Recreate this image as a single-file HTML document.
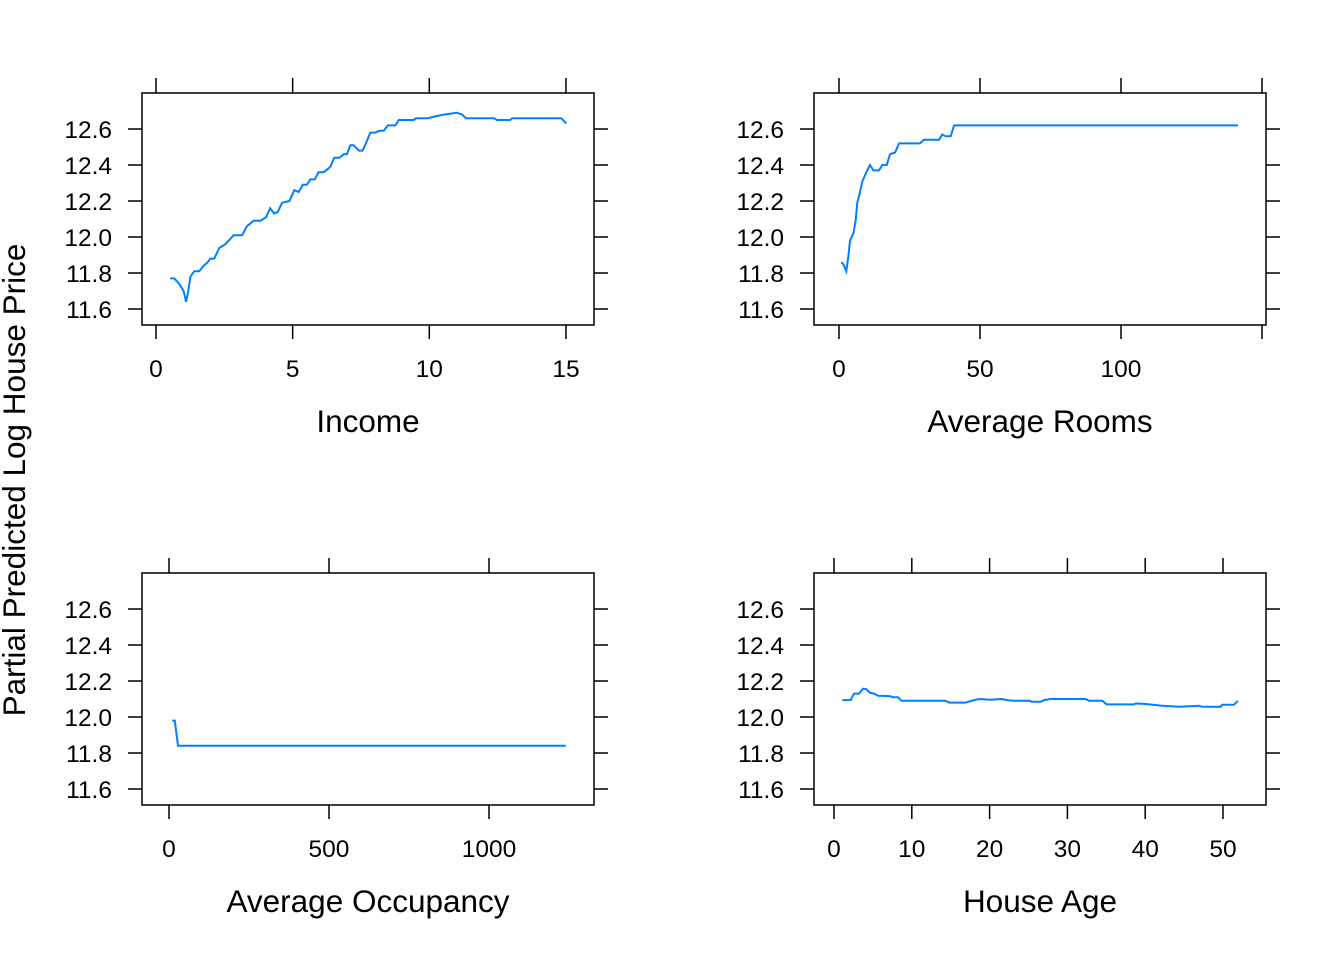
<!DOCTYPE html>
<html><head><meta charset="utf-8"><style>
body{margin:0;background:#fff}
svg{display:block}
text{font-family:"Liberation Sans",Arial,sans-serif;fill:#000}
</style></head><body>
<svg id="c" width="1344" height="960" viewBox="0 0 1344 960">
<text x="0" y="0" transform="translate(25,480) rotate(-90)" text-anchor="middle" font-size="31.5">Partial Predicted Log House Price</text>
</svg>
<script>
const yTicks=[11.6,11.8,12.0,12.2,12.4,12.6];
const incomeX=[0.52,0.67,0.85,1.01,1.10,1.17,1.26,1.40,1.58,1.74,1.89,1.99,2.13,2.32,2.54,2.84,3.15,3.33,3.57,3.82,4.03,4.18,4.33,4.46,4.61,4.88,5.06,5.22,5.37,5.52,5.65,5.81,5.95,6.14,6.38,6.52,6.71,6.87,6.99,7.11,7.23,7.42,7.56,7.68,7.84,8.02,8.17,8.33,8.48,8.76,8.88,9.43,9.51,9.94,10.22,10.53,11.01,11.20,11.34,11.56,11.81,12.36,12.48,12.96,13.03,14.83,15.01];
const incomeY=[11.77,11.77,11.74,11.70,11.64,11.69,11.78,11.81,11.81,11.84,11.86,11.88,11.88,11.94,11.96,12.01,12.01,12.06,12.09,12.09,12.11,12.16,12.13,12.14,12.19,12.20,12.26,12.25,12.29,12.29,12.32,12.32,12.36,12.36,12.39,12.44,12.44,12.46,12.46,12.51,12.51,12.48,12.48,12.52,12.58,12.58,12.59,12.59,12.62,12.62,12.65,12.65,12.66,12.66,12.67,12.68,12.69,12.68,12.66,12.66,12.66,12.66,12.65,12.65,12.66,12.66,12.63];
const roomsX=[0.8,1.5,2.6,3.3,3.9,5.1,5.9,6.5,7.3,8.3,9.7,11.0,12.2,14.2,15.4,16.9,18.1,19.9,21.3,28.7,30.1,35.5,36.6,37.8,39.6,40.8,141.5];
const roomsY=[11.86,11.85,11.81,11.89,11.98,12.02,12.09,12.19,12.24,12.31,12.36,12.40,12.37,12.37,12.40,12.40,12.46,12.47,12.52,12.52,12.54,12.54,12.57,12.56,12.56,12.62,12.62];
const occX=[10,18,28,1240];
const occY=[11.98,11.98,11.84,11.84];
const ageX=[1.07,2.14,2.57,3.21,3.73,4.15,4.63,5.14,5.66,7.2,7.5,8.23,8.65,14.36,14.78,16.93,18.0,18.77,20.05,21.6,22.2,23.14,25.2,25.36,26.57,27.0,27.85,32.35,32.78,34.5,35.05,38.56,38.78,40.06,42.2,44.35,46.9,47.3,49.7,49.9,51.4,51.9];
const ageY=[12.094,12.094,12.13,12.13,12.157,12.155,12.135,12.13,12.118,12.116,12.11,12.11,12.09,12.09,12.08,12.08,12.094,12.10,12.096,12.10,12.094,12.09,12.09,12.085,12.085,12.094,12.10,12.10,12.09,12.09,12.07,12.07,12.075,12.072,12.063,12.057,12.063,12.057,12.057,12.068,12.068,12.09];
const incomeTicks=[0,5,10,15];
const roomsTicks=[0,50,100];
const occTicks=[0,500,1000];
const ageTicks=[0,10,20,30,40,50];

const svg=document.getElementById('c');
const NS='http://www.w3.org/2000/svg';
function mk(tag,attrs,parent){const e=document.createElementNS(NS,tag);for(const k in attrs)e.setAttribute(k,attrs[k]);(parent||svg).appendChild(e);return e;}

function panel(key,title,L,T,x0px,pxPerUnit,xs,ys,ticks,extraTicks){
  const R=L+452,B=T+232;
  const g=mk('g',{});
  
  
  const sx=v=>x0px+v*pxPerUnit;
  const sy=v=>T+36+(12.6-v)*180;
  const box=mk('rect',{x:L,y:T,width:452,height:232,fill:'none',stroke:'#000','stroke-width':1.5},g);
  
  
  const allT=ticks.concat(extraTicks);
  allT.forEach(t=>{const x=sx(t);
    mk('line',{x1:x,x2:x,y1:T-15,y2:T,stroke:'#000','stroke-width':1.5},g);
    mk('line',{x1:x,x2:x,y1:B,y2:B+14,stroke:'#000','stroke-width':1.5},g);});
  ticks.forEach(t=>{const tx=mk('text',{x:sx(t),y:B+52,'text-anchor':'middle','font-size':24.5},g);tx.textContent=t;
    
    });
  yTicks.forEach(t=>{const y=sy(t);
    mk('line',{x1:L-14,x2:L,y1:y,y2:y,stroke:'#000','stroke-width':1.5},g);
    mk('line',{x1:R,x2:R+14,y1:y,y2:y,stroke:'#000','stroke-width':1.5},g);
    const tx=mk('text',{x:L-30,y:y+9,'text-anchor':'end','font-size':24.5},g);tx.textContent=t.toFixed(1);
    
    });
  const tt=mk('text',{x:(L+R)/2,y:B+107,'text-anchor':'middle','font-size':31.5},g);tt.textContent=title;
  
  
  const pts=xs.map((x,i)=>sx(x).toFixed(1)+','+sy(ys[i]).toFixed(1)).join(' ');
  const pl=mk('polyline',{points:pts,fill:'none',stroke:'#0080ff','stroke-width':2},g);
  
  
}
panel('income','Income',142,93,156,27.33,incomeX,incomeY,incomeTicks,[]);
panel('rooms','Average Rooms',814,93,839,2.82,roomsX,roomsY,roomsTicks,[150]);
panel('occupancy','Average Occupancy',142,573,169,0.32,occX,occY,occTicks,[]);
panel('house-age','House Age',814,573,834,7.78,ageX,ageY,ageTicks,[]);
</script>
</body></html>
